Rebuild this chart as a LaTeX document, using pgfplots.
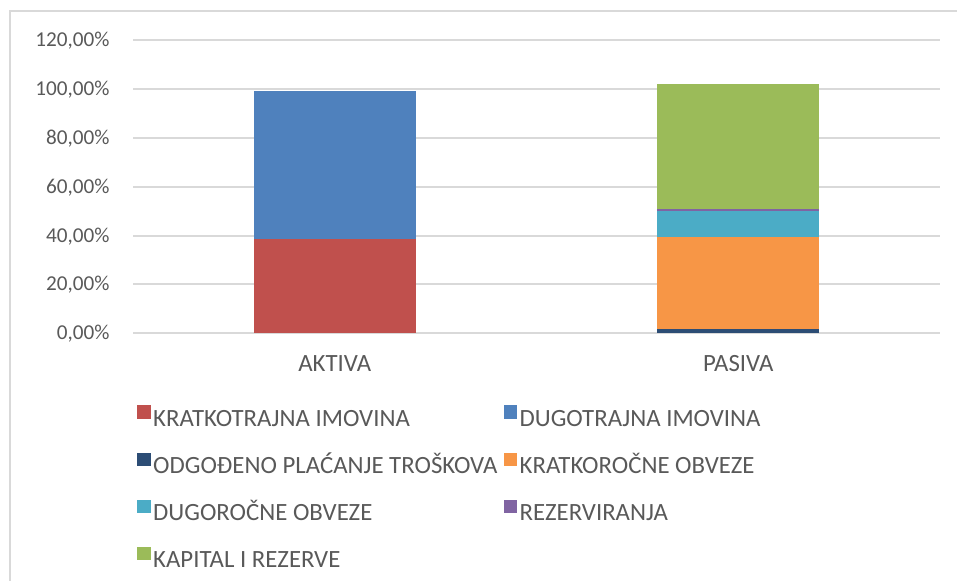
\documentclass[border=0pt]{standalone}
\usepackage{fontspec}
\setmainfont{Carlito}
\usepackage{pgfplots}
\pgfplotsset{compat=1.18}
\definecolor{txt}{HTML}{595959}
\definecolor{gridc}{HTML}{D9D9D9}
\definecolor{c1}{HTML}{C0504D}
\definecolor{c2}{HTML}{4F81BD}
\definecolor{c3}{HTML}{2C4D75}
\definecolor{c4}{HTML}{F79646}
\definecolor{c5}{HTML}{4BACC6}
\definecolor{c6}{HTML}{8064A2}
\definecolor{c7}{HTML}{9BBB59}
\newcommand{\lab}{\fontsize{12.4pt}{14.5pt}\selectfont}
\newcommand{\tlab}{\fontsize{10.6pt}{13pt}\selectfont}
\pgfplotsset{sq/.style={fill=#1, draw=none,
  legend image code/.code={\path (0pt,0pt); \fill[#1] (0pt,0.4pt) rectangle (6.7pt,7.1pt);}}}
\begin{document}
\begin{tikzpicture}
\path[use as bounding box] (0pt,0pt) rectangle (478.5pt,-290.5pt);
\draw[gridc, line width=0.75pt] (5pt,-290.5pt) -- (5pt,-5.5pt) -- (478.5pt,-5.5pt);
\begin{axis}[
  at={(66.5pt,-166.65pt)}, anchor=south west,
  scale only axis, width=403.5pt, height=146.4pt,
  ybar stacked, bar width=81pt,
  xmin=-0.5, xmax=1.5, ymin=0, ymax=120,
  xtick={0,1}, xticklabels={AKTIVA,PASIVA},
  ytick={0,20,...,120},
  axis line style={draw=none}, major tick length=0pt,
  ymajorgrids, major grid style={draw=gridc, line width=1pt},
  /pgf/number format/.cd, fixed, fixed zerofill, precision=2, use comma, assume math mode=true, /pgfplots/.cd,
  yticklabel={\pgfmathprintnumber{\tick}\%},
  yticklabel style={font=\tlab, text=txt, inner sep=0pt, anchor=base east, xshift=-11.5pt, yshift=-3.2pt},
  xticklabel style={font=\lab, text=txt, inner sep=0pt, anchor=base, yshift=-19.35pt},
  legend columns=2,
  legend style={font=\lab, text=txt, draw=none, fill=none, inner sep=0pt,
    at={(0.005,-0.245)}, anchor=north west, row sep=10.75pt, column sep=0pt,
    nodes={inner sep=0pt, text height=9pt, text depth=2.5pt}},
  legend cell align=left,
  /tikz/every odd column/.style={column sep=1.2pt},
]
\addplot[sq=c1] coordinates {(0,38.6) (1,0)};
\addlegendentry{\makebox[175.3pt][l]{KRATKOTRAJNA IMOVINA}}
\addplot[sq=c2] coordinates {(0,60.8) (1,0)};
\addlegendentry{DUGOTRAJNA IMOVINA}
\addplot[sq=c3] coordinates {(0,0) (1,1.9)};
\addlegendentry{\makebox[175.3pt][l]{ODGOĐENO PLAĆANJE TROŠKOVA}}
\addplot[sq=c4] coordinates {(0,0) (1,37.6)};
\addlegendentry{KRATKOROČNE OBVEZE}
\addplot[sq=c5] coordinates {(0,0) (1,10.6)};
\addlegendentry{\makebox[175.3pt][l]{DUGOROČNE OBVEZE}}
\addplot[sq=c6] coordinates {(0,0) (1,0.8)};
\addlegendentry{REZERVIRANJA}
\addplot[sq=c7] coordinates {(0,0) (1,51.3)};
\addlegendentry{\makebox[175.3pt][l]{KAPITAL I REZERVE}}
\end{axis}
\end{tikzpicture}
\end{document}
